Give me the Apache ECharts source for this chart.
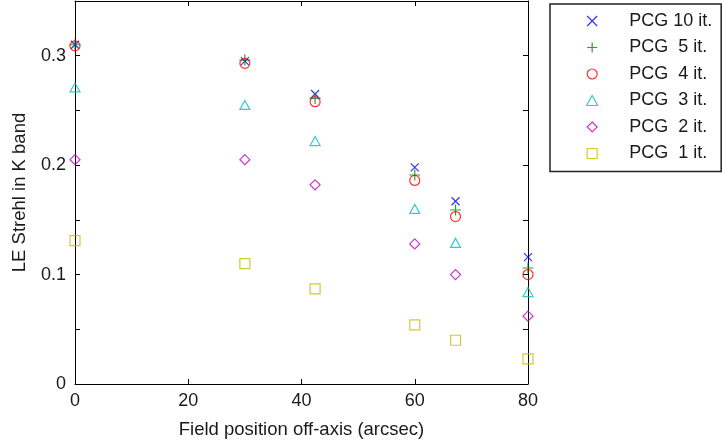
<!DOCTYPE html>
<html>
<head>
<meta charset="utf-8">
<script src="https://cdn.jsdelivr.net/npm/echarts@6/dist/echarts.min.js"></script>
<style>
html,body{margin:0;padding:0;background:#fff;}
#chart{width:722px;height:448px;}
</style>
</head>
<body>
<div id="chart"></div>
<script>
// Field position off-axis (arcsec)
const fieldPos = [0, 30, 42.4, 60, 67.2, 80];
// LE Strehl in K band per PCG iteration count
const pcg10 = [0.310, 0.295, 0.265, 0.198, 0.167, 0.116];
const pcg5  = [0.310, 0.296, 0.261, 0.191, 0.159, 0.106];
const pcg4  = [0.309, 0.293, 0.258, 0.186, 0.153, 0.100];
const pcg3  = [0.271, 0.255, 0.222, 0.160, 0.129, 0.084];
const pcg2  = [0.205, 0.205, 0.182, 0.128, 0.100, 0.062];
const pcg1  = [0.131, 0.110, 0.087, 0.054, 0.040, 0.023];
const seriesNames = ['PCG 10 it.', 'PCG  5 it.', 'PCG  4 it.', 'PCG  3 it.', 'PCG  2 it.', 'PCG  1 it.'];

const FONT = 'Liberation Sans, Arial, sans-serif';
const styles = [
  {symbol: 'path://M0,0L10,10M10,0L0,10', size: 8, color: '#0000ff'},
  {symbol: 'path://M5,0L5,10M0,5L10,5', size: 11, color: '#008000'},
  {symbol: 'circle', size: 10, color: '#ff0000'},
  {symbol: 'path://M5,0L10,9L0,9Z', size: 10, color: '#00bfbf'},
  {symbol: 'path://M5,0L10,5L5,10L0,5Z', size: 10, color: '#bf00bf'},
  {symbol: 'path://M0,0L10,0L10,10L0,10Z', size: 10, color: '#bfbf00'}
];
const values = [pcg10, pcg5, pcg4, pcg3, pcg2, pcg1];

const series = values.map((vals, i) => ({
  name: seriesNames[i],
  type: 'scatter',
  xAxisIndex: 0,
  yAxisIndex: 0,
  clip: false,
  symbol: styles[i].symbol,
  symbolSize: styles[i].size,
  symbolKeepAspect: true,
  itemStyle: {color: 'rgba(255,255,255,0)', borderColor: styles[i].color, borderWidth: 1.2},
  emphasis: {disabled: true},
  data: fieldPos.map((x, j) => [x, vals[j]])
}));

const axisCommon = {
  axisLine: {show: true, onZero: false, lineStyle: {color: '#000', width: 1}},
  axisTick: {show: true, inside: true, length: 5, lineStyle: {color: '#000', width: 1}},
  splitLine: {show: false}
};

const option = {
  animation: false,
  backgroundColor: '#fff',
  grid: {left: 75, right: 194, top: 1, bottom: 64},
  xAxis: [
    Object.assign({
      type: 'value', position: 'bottom', min: 0, max: 80, interval: 20,
      name: 'Field position off-axis (arcsec)', nameLocation: 'middle', nameGap: 36,
      nameTextStyle: {fontFamily: FONT, fontSize: 18.5, color: '#1a1a1a'},
      axisLabel: {fontFamily: FONT, fontSize: 18, color: '#1a1a1a', margin: 8}
    }, axisCommon),
    Object.assign({
      type: 'value', position: 'top', min: 0, max: 80, interval: 20,
      axisLabel: {show: false}
    }, axisCommon)
  ],
  yAxis: [
    Object.assign({
      type: 'value', position: 'left', min: 0, max: 0.35, interval: 0.05,
      name: 'LE Strehl in K band', nameLocation: 'middle', nameGap: 46, nameRotate: 90,
      nameTextStyle: {fontFamily: FONT, fontSize: 18.5, color: '#1a1a1a'},
      axisLabel: {
        fontFamily: FONT, fontSize: 18, color: '#1a1a1a', margin: 9,
        formatter: function (v) {
          const r = Math.round(v * 100);
          return r % 10 === 0 ? String(r / 100) : '';
        }
      }
    }, axisCommon),
    Object.assign({
      type: 'value', position: 'right', min: 0, max: 0.35, interval: 0.05,
      axisLabel: {show: false}
    }, axisCommon)
  ],
  legend: {
    orient: 'vertical',
    left: 550, top: 4,
    padding: [8, 9, 9, 36],
    itemWidth: 64, itemHeight: 10, itemGap: 8.5,
    borderColor: '#222', borderWidth: 1.5,
    backgroundColor: '#fff',
    selectedMode: false,
    symbolKeepAspect: true,
    itemStyle: {borderWidth: 1.2},
    textStyle: {fontFamily: FONT, fontSize: 18, color: '#1a1a1a', lineHeight: 18},
    data: seriesNames
  },
  series: series
};

const chart = echarts.init(document.getElementById('chart'), null, {renderer: 'canvas'});
chart.setOption(option);
</script>
</body>
</html>
